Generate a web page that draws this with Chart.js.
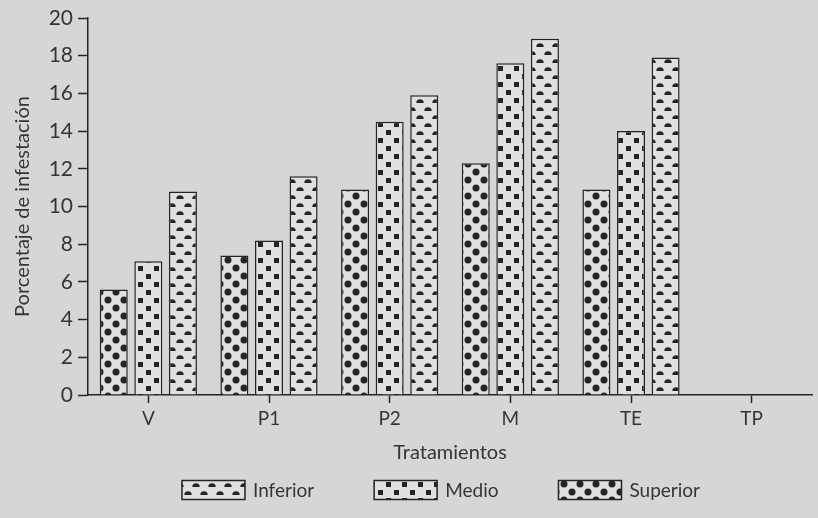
<!DOCTYPE html>
<html>
<head>
<meta charset="utf-8">
<script src="https://cdn.jsdelivr.net/npm/chart.js@4"></script>
<style>
  html, body { margin: 0; padding: 0; background: #d6d6d6; }
</style>
</head>
<body>
<canvas id="chart" width="818" height="518"></canvas>
<script>
// Porcentaje de infestación por tratamiento y estrato
const tratamientos = ['V', 'P1', 'P2', 'M', 'TE', 'TP'];
const superior = [5.6, 7.4, 10.9, 12.3, 10.9, null];
const medio = [7.1, 8.2, 14.5, 17.6, 14.0, null];
const inferior = [10.8, 11.6, 15.9, 18.9, 17.9, null];

const textColor = '#353535';
const inkColor = '#242424';
const pageColor = '#d6d6d6';
const barColor = '#e0e0e0';

Chart.defaults.font.family = 'Lato, "Open Sans", sans-serif';
Chart.defaults.color = textColor;

const ctx = document.getElementById('chart').getContext('2d');

// patrones de relleno: círculos, cuadros y medias lunas
function makePattern(kind) {
    const c = document.createElement('canvas');
    c.width = 16;
    c.height = 16;
    const g = c.getContext('2d');
    g.fillStyle = barColor;
    g.fillRect(0, 0, 16, 16);
    g.fillStyle = inkColor;
    if (kind === 'circles') {
        [[4, 4], [12, 12]].forEach(p => {
            g.beginPath();
            g.arc(p[0], p[1], 3.5, 0, Math.PI * 2);
            g.fill();
        });
    } else if (kind === 'squares') {
        g.fillRect(2, 2, 5, 5);
        g.fillRect(10, 10, 5, 5);
    } else {
        [[4, 7], [12, 15]].forEach(p => {
            g.beginPath();
            g.arc(p[0], p[1], 3.7, Math.PI, 0);
            g.closePath();
            g.fill();
        });
    }
    return ctx.createPattern(c, 'repeat');
}

const backgroundPlugin = {
    id: 'pageBackground',
    beforeDraw(chart) {
        const c = chart.ctx;
        c.save();
        c.fillStyle = pageColor;
        c.fillRect(0, 0, chart.width, chart.height);
        c.restore();
    }
};

// leyenda dibujada a mano para separar bien los elementos
const legendPlugin = {
    id: 'patternLegend',
    afterDraw(chart) {
        const c = chart.ctx;
        const items = chart.data.datasets.slice().reverse();
        const boxW = 63, boxH = 19, textGap = 8, itemGap = 60;
        c.save();
        c.font = '19px ' + Chart.defaults.font.family;
        const widths = items.map(ds => boxW + textGap + c.measureText(ds.label).width);
        const total = widths.reduce((a, b) => a + b, 0) + itemGap * (items.length - 1);
        const area = chart.chartArea;
        let x = (area.left + area.right) / 2 - 9 - total / 2;
        const y = chart.height - 28;
        items.forEach((ds, i) => {
            c.fillStyle = ds.backgroundColor;
            c.fillRect(x, y - boxH / 2, boxW, boxH);
            c.strokeStyle = inkColor;
            c.lineWidth = 1.5;
            c.strokeRect(x, y - boxH / 2, boxW, boxH);
            c.fillStyle = textColor;
            c.textBaseline = 'middle';
            c.textAlign = 'left';
            c.fillText(ds.label, x + boxW + textGap, y + 1);
            x += widths[i] + itemGap;
        });
        c.restore();
    }
};

function makeDataset(label, data, kind) {
    return {
        label: label,
        data: data,
        backgroundColor: makePattern(kind),
        borderColor: inkColor,
        borderWidth: 1.5,
        borderSkipped: 'bottom',
        categoryPercentage: 0.86,
        barPercentage: 0.81
    };
}

new Chart(ctx, {
    type: 'bar',
    data: {
        labels: tratamientos,
        datasets: [
            makeDataset('Superior', superior, 'circles'),
            makeDataset('Medio', medio, 'squares'),
            makeDataset('Inferior', inferior, 'halves')
        ]
    },
    options: {
        responsive: false,
        animation: false,
        devicePixelRatio: 1,
        layout: { padding: { top: 18, right: 6, bottom: 40, left: 0 } },
        plugins: {
            legend: { display: false },
            tooltip: { enabled: false }
        },
        scales: {
            x: {
                offset: true,
                afterFit: scale => { scale.height = 83; },
                grid: {
                    offset: false,
                    drawOnChartArea: false,
                    tickLength: 8,
                    tickColor: inkColor,
                    tickWidth: 1.5
                },
                border: { color: inkColor, width: 1.5 },
                ticks: { font: { size: 19 }, padding: 4, color: textColor },
                title: {
                    display: true,
                    text: 'Tratamientos',
                    font: { size: 20 },
                    padding: { top: 0, bottom: 13 },
                    color: textColor
                }
            },
            y: {
                min: 0,
                max: 20,
                afterFit: scale => { scale.width = 88; },
                grid: {
                    drawOnChartArea: false,
                    tickLength: 10,
                    tickColor: inkColor,
                    tickWidth: 1.5
                },
                border: { color: inkColor, width: 1.5 },
                ticks: { stepSize: 2, font: { size: 21 }, padding: 5, color: textColor },
                title: {
                    display: true,
                    text: 'Porcentaje de infestación',
                    font: { size: 20 },
                    padding: { top: 11, bottom: 0 },
                    color: textColor
                }
            }
        }
    },
    plugins: [backgroundPlugin, legendPlugin]
});
</script>
</body>
</html>
